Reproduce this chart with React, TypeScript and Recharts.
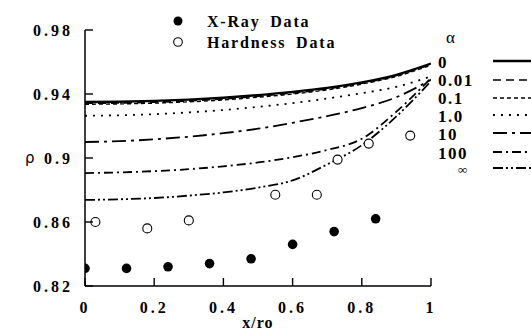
import React from "react";
import {
  ComposedChart,
  Line,
  Scatter,
  XAxis,
  YAxis,
  Legend,
} from "recharts";

// ---- data ----
const xGrid = [0, 0.1, 0.2, 0.3, 0.4, 0.5, 0.6, 0.7, 0.8, 0.9, 1.0];

const rhoAlpha0 = [0.935, 0.9352, 0.9357, 0.9365, 0.9377, 0.9393, 0.9413, 0.9438, 0.9473, 0.952, 0.959];
const rhoAlpha001 = [0.9342, 0.9344, 0.9349, 0.9357, 0.9369, 0.9386, 0.9406, 0.9432, 0.9467, 0.9515, 0.9585];
const rhoAlpha01 = [0.9336, 0.9338, 0.9343, 0.9351, 0.9363, 0.938, 0.94, 0.9426, 0.9462, 0.951, 0.958];
const rhoAlpha1 = [0.9264, 0.9267, 0.9274, 0.9285, 0.93, 0.932, 0.9343, 0.9372, 0.9405, 0.9445, 0.951];
const rhoAlpha10 = [0.91, 0.9105, 0.9117, 0.9133, 0.9155, 0.9183, 0.922, 0.9262, 0.9312, 0.938, 0.949];
const rhoAlpha100 = [0.8906, 0.891, 0.8918, 0.893, 0.8948, 0.8972, 0.9005, 0.905, 0.912, 0.929, 0.95];
const rhoAlphaInf = [0.8738, 0.8742, 0.875, 0.8765, 0.8785, 0.8815, 0.886, 0.896, 0.908, 0.926, 0.948];

const xrayX = [0, 0.12, 0.24, 0.36, 0.48, 0.6, 0.72, 0.84];
const xrayRho = [0.831, 0.831, 0.832, 0.834, 0.837, 0.846, 0.854, 0.862];

const hardX = [0.03, 0.18, 0.3, 0.55, 0.67, 0.73, 0.82, 0.94];
const hardRho = [0.86, 0.856, 0.861, 0.877, 0.877, 0.899, 0.909, 0.914];

const alphaLabels = ["0", "0.01", "0.1", "1.0", "10", "100", "\u221e"];
const xTicks = [0, 0.2, 0.4, 0.6, 0.8, 1];
const yTicks = [0.82, 0.86, 0.9, 0.94, 0.98];

// line styles, one per alpha
const curveStyles = [
  { dash: undefined, width: 2.4 },
  { dash: "8 5", width: 1.6 },
  { dash: "4 3", width: 1.4 },
  { dash: "2 6", width: 1.8 },
  { dash: "14 5 3 5", width: 1.8 },
  { dash: "9 4 2 4", width: 1.8 },
  { dash: "10 3 2 3 2 3", width: 1.8 },
];

const curves = [rhoAlpha0, rhoAlpha001, rhoAlpha01, rhoAlpha1, rhoAlpha10, rhoAlpha100, rhoAlphaInf].map(
  (vals) => xGrid.map((x, i) => ({ x, y: vals[i] }))
);
const xrayData = xrayX.map((x, i) => ({ x, y: xrayRho[i] }));
const hardData = hardX.map((x, i) => ({ x, y: hardRho[i] }));

const SERIF = "'Liberation Serif', 'Times New Roman', serif";

const YTick = (props: any) => {
  const { x, y, payload } = props;
  const axisX = x + 12;
  return (
    <g>
      <line x1={axisX} x2={axisX + 8} y1={y} y2={y} stroke="#000" strokeWidth={1.4} />
      <text x={x} y={y} dy={5.5} textAnchor="end" fontFamily={SERIF} fontWeight="bold" fontSize={16} letterSpacing={3} fill="#000">
        {payload.value}
      </text>
    </g>
  );
};

const XTick = (props: any) => {
  const { x, y, payload } = props;
  const axisY = y - 14;
  return (
    <g>
      <line x1={x} x2={x} y1={axisY} y2={axisY - 8} stroke="#000" strokeWidth={1.4} />
      <text x={x} y={y} dy={12.5} textAnchor="middle" fontFamily={SERIF} fontWeight="bold" fontSize={16} letterSpacing={3} fill="#000">
        {payload.value}
      </text>
    </g>
  );
};

function LegendBlock() {
  const labelYs = [62, 80, 98, 116, 134, 153, 169];
  const lineYs = [61, 80, 98, 115, 133, 152, 168];
  return (
    <svg width={531} height={331} style={{ position: "absolute", left: 0, top: 0, pointerEvents: "none" }}>
      {/* scatter legend */}
      <circle cx={178} cy={21} r={4.5} fill="#000" />
      <text x={207} y={26.5} fontFamily={SERIF} fontWeight="bold" fontSize={16} letterSpacing={1.8} wordSpacing={4} fill="#000">
        X-Ray Data
      </text>
      <circle cx={178} cy={42} r={4.3} fill="#fff" stroke="#000" strokeWidth={1.1} />
      <text x={207} y={47.5} fontFamily={SERIF} fontWeight="bold" fontSize={16} letterSpacing={1.8} wordSpacing={4} fill="#000">
        Hardness Data
      </text>
      {/* alpha legend */}
      <text x={446} y={43} fontFamily={SERIF} fontSize={17} fill="#000">
        {"\u03b1"}
      </text>
      {alphaLabels.map((lab, i) => {
        const inf = lab === "\u221e";
        return (
          <g key={lab}>
            <text
              x={inf ? 458 : 438}
              y={labelYs[i] + (inf ? 5 : 6)}
              fontFamily={SERIF}
              fontWeight="bold"
              fontSize={inf ? 13 : 17}
              letterSpacing={inf ? 0 : 1.5}
              fill="#000"
            >
              {lab}
            </text>
            <line
              x1={493}
              x2={540}
              y1={lineYs[i]}
              y2={lineYs[i]}
              stroke="#000"
              strokeWidth={curveStyles[i].width}
              strokeDasharray={curveStyles[i].dash}
            />
          </g>
        );
      })}
    </svg>
  );
}

export default function App() {
  return (
    <div style={{ position: "absolute", left: 0, top: 0, width: 531, height: 331, background: "#fff" }}>
      <ComposedChart width={531} height={331} margin={{ top: 30, right: 100, bottom: 15, left: 0 }}>
        <XAxis
          type="number"
          dataKey="x"
          domain={[0, 1]}
          ticks={xTicks}
          tick={<XTick />}
          tickLine={false}
          tickSize={0}
          tickMargin={14}
          height={30}
          axisLine={{ stroke: "#000", strokeWidth: 1.5 }}
          interval={0}
          allowDataOverflow
          label={{ value: "x/ro", position: "bottom", offset: 1, fontFamily: SERIF, fontWeight: "bold", fontSize: 16, letterSpacing: 1, fill: "#000" }}
        />
        <YAxis
          type="number"
          dataKey="y"
          domain={[0.82, 0.98]}
          ticks={yTicks}
          tick={<YTick />}
          tickLine={false}
          tickSize={0}
          tickMargin={12}
          width={85}
          axisLine={{ stroke: "#000", strokeWidth: 1.5 }}
          interval={0}
          allowDataOverflow
          label={{ value: "\u03c1", position: "insideLeft", offset: 25, fontFamily: "'DejaVu Sans', sans-serif", fontSize: 15, fill: "#000" }}
        />
        {curves.map((data, i) => (
          <Line
            key={alphaLabels[i]}
            data={data}
            dataKey="y"
            type="monotone"
            stroke="#000"
            strokeWidth={curveStyles[i].width}
            strokeDasharray={curveStyles[i].dash}
            dot={false}
            activeDot={false}
            isAnimationActive={false}
          />
        ))}
        <Scatter
          data={xrayData}
          dataKey="y"
          isAnimationActive={false}
          shape={(p: any) => <circle cx={p.cx} cy={p.cy} r={4.8} fill="#000" />}
        />
        <Scatter
          data={hardData}
          dataKey="y"
          isAnimationActive={false}
          shape={(p: any) => <circle cx={p.cx} cy={p.cy} r={4.5} fill="#fff" stroke="#000" strokeWidth={1.1} />}
        />
        <Legend
          layout="horizontal"
          verticalAlign="middle"
          align="center"
          wrapperStyle={{ position: "absolute", left: 0, top: 0, width: 531, height: 331 }}
          content={() => <LegendBlock />}
        />
      </ComposedChart>
    </div>
  );
}
